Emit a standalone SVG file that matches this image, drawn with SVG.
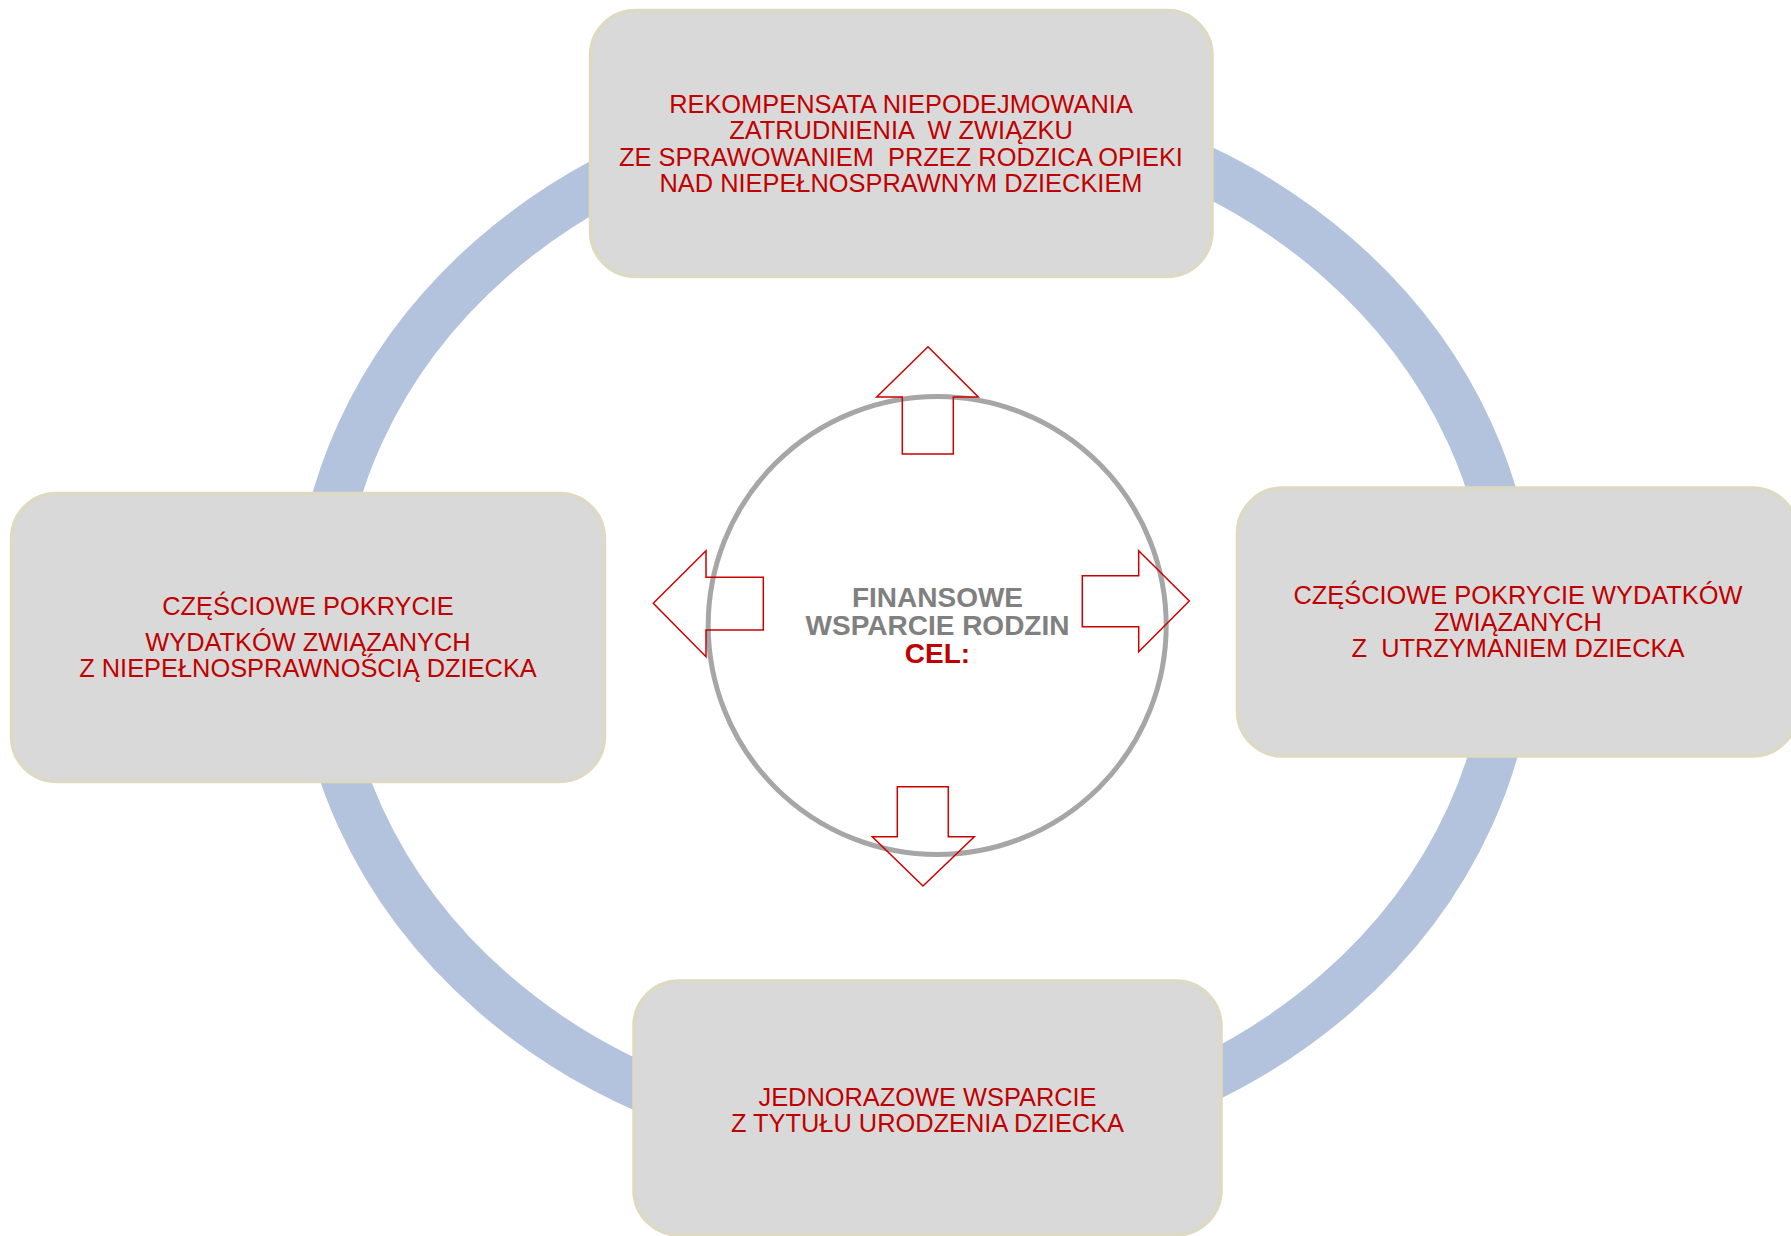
<svg xmlns="http://www.w3.org/2000/svg" width="1791" height="1236" viewBox="0 0 1791 1236">
<style>
.box{fill:#D9D9D9;stroke:#DDD9C3;stroke-width:3.5}
.t{font-family:"Liberation Sans",Arial,sans-serif;font-size:25.4px;fill:#C00000;text-anchor:middle}
.c{font-family:"Liberation Sans",Arial,sans-serif;font-size:28px;font-weight:bold;text-anchor:middle}
.arr{fill:none;stroke:#CC0000;stroke-width:1.5;stroke-linejoin:miter}
</style>
<rect width="1791" height="1236" fill="#FFFFFF"/>
<g id="ring">
<ellipse cx="915" cy="625" rx="597" ry="520" fill="none" stroke="#B3C3DD" stroke-width="48"/>
</g>
<g id="node-top">
<rect class="box" x="590.5" y="10.5" width="621.5" height="266" rx="45" ry="45"/>
<text class="t" x="901" y="113">REKOMPENSATA NIEPODEJMOWANIA</text>
<text class="t" x="901" y="139.3" xml:space="preserve">ZATRUDNIENIA  W ZWIĄZKU</text>
<text class="t" x="901" y="165.6" xml:space="preserve">ZE SPRAWOWANIEM  PRZEZ RODZICA OPIEKI</text>
<text class="t" x="901" y="191.9">NAD NIEPEŁNOSPRAWNYM DZIECKIEM</text>
</g>
<g id="node-left">
<rect class="box" x="11.5" y="493.5" width="593" height="288" rx="45" ry="45"/>
<text class="t" x="308" y="614.5">CZĘŚCIOWE POKRYCIE</text>
<text class="t" x="308" y="651">WYDATKÓW ZWIĄZANYCH</text>
<text class="t" x="308" y="676.5">Z NIEPEŁNOSPRAWNOŚCIĄ DZIECKA</text>
</g>
<g id="node-right">
<rect class="box" x="1237.5" y="488" width="560" height="268" rx="45" ry="45"/>
<text class="t" x="1518" y="604">CZĘŚCIOWE POKRYCIE WYDATKÓW</text>
<text class="t" x="1518" y="630.5">ZWIĄZANYCH</text>
<text class="t" x="1518" y="656.8" xml:space="preserve">Z  UTRZYMANIEM DZIECKA</text>
</g>
<g id="node-bottom">
<rect class="box" x="634" y="981" width="587" height="254" rx="45" ry="45"/>
<text class="t" x="927.5" y="1105.7">JEDNORAZOWE WSPARCIE</text>
<text class="t" x="927.5" y="1132">Z TYTUŁU URODZENIA DZIECKA</text>
</g>
<g id="node-center">
<circle cx="937.2" cy="625.5" r="229" fill="#FFFFFF" stroke="#A6A6A6" stroke-width="5"/>
<text class="c" x="937.5" y="606.5" fill="#808080">FINANSOWE</text>
<text class="c" x="937.5" y="634.5" fill="#808080">WSPARCIE RODZIN</text>
<text class="c" x="937.5" y="662.5" fill="#C00000">CEL:</text>
</g>
<g id="connectors">
<path class="arr" d="M928,346.7 L978.3,397 L953.3,397 L953.3,454 L902.3,454 L902.3,397 L876.7,397 Z"/>
<path class="arr" d="M1189.3,601 L1138.7,651.7 L1138.7,626.7 L1082.3,626.7 L1082.3,575.7 L1138.7,575.7 L1138.7,550.7 Z"/>
<path class="arr" d="M923,886 L872.3,836.7 L897.3,836.7 L897.3,786.7 L948.3,786.7 L948.3,836.7 L974.3,836.7 Z"/>
<path class="arr" d="M653.3,603.3 L706,550.7 L706,577.3 L763.3,577.3 L763.3,630 L706,630 L706,656.7 Z"/>
</g>
</svg>
